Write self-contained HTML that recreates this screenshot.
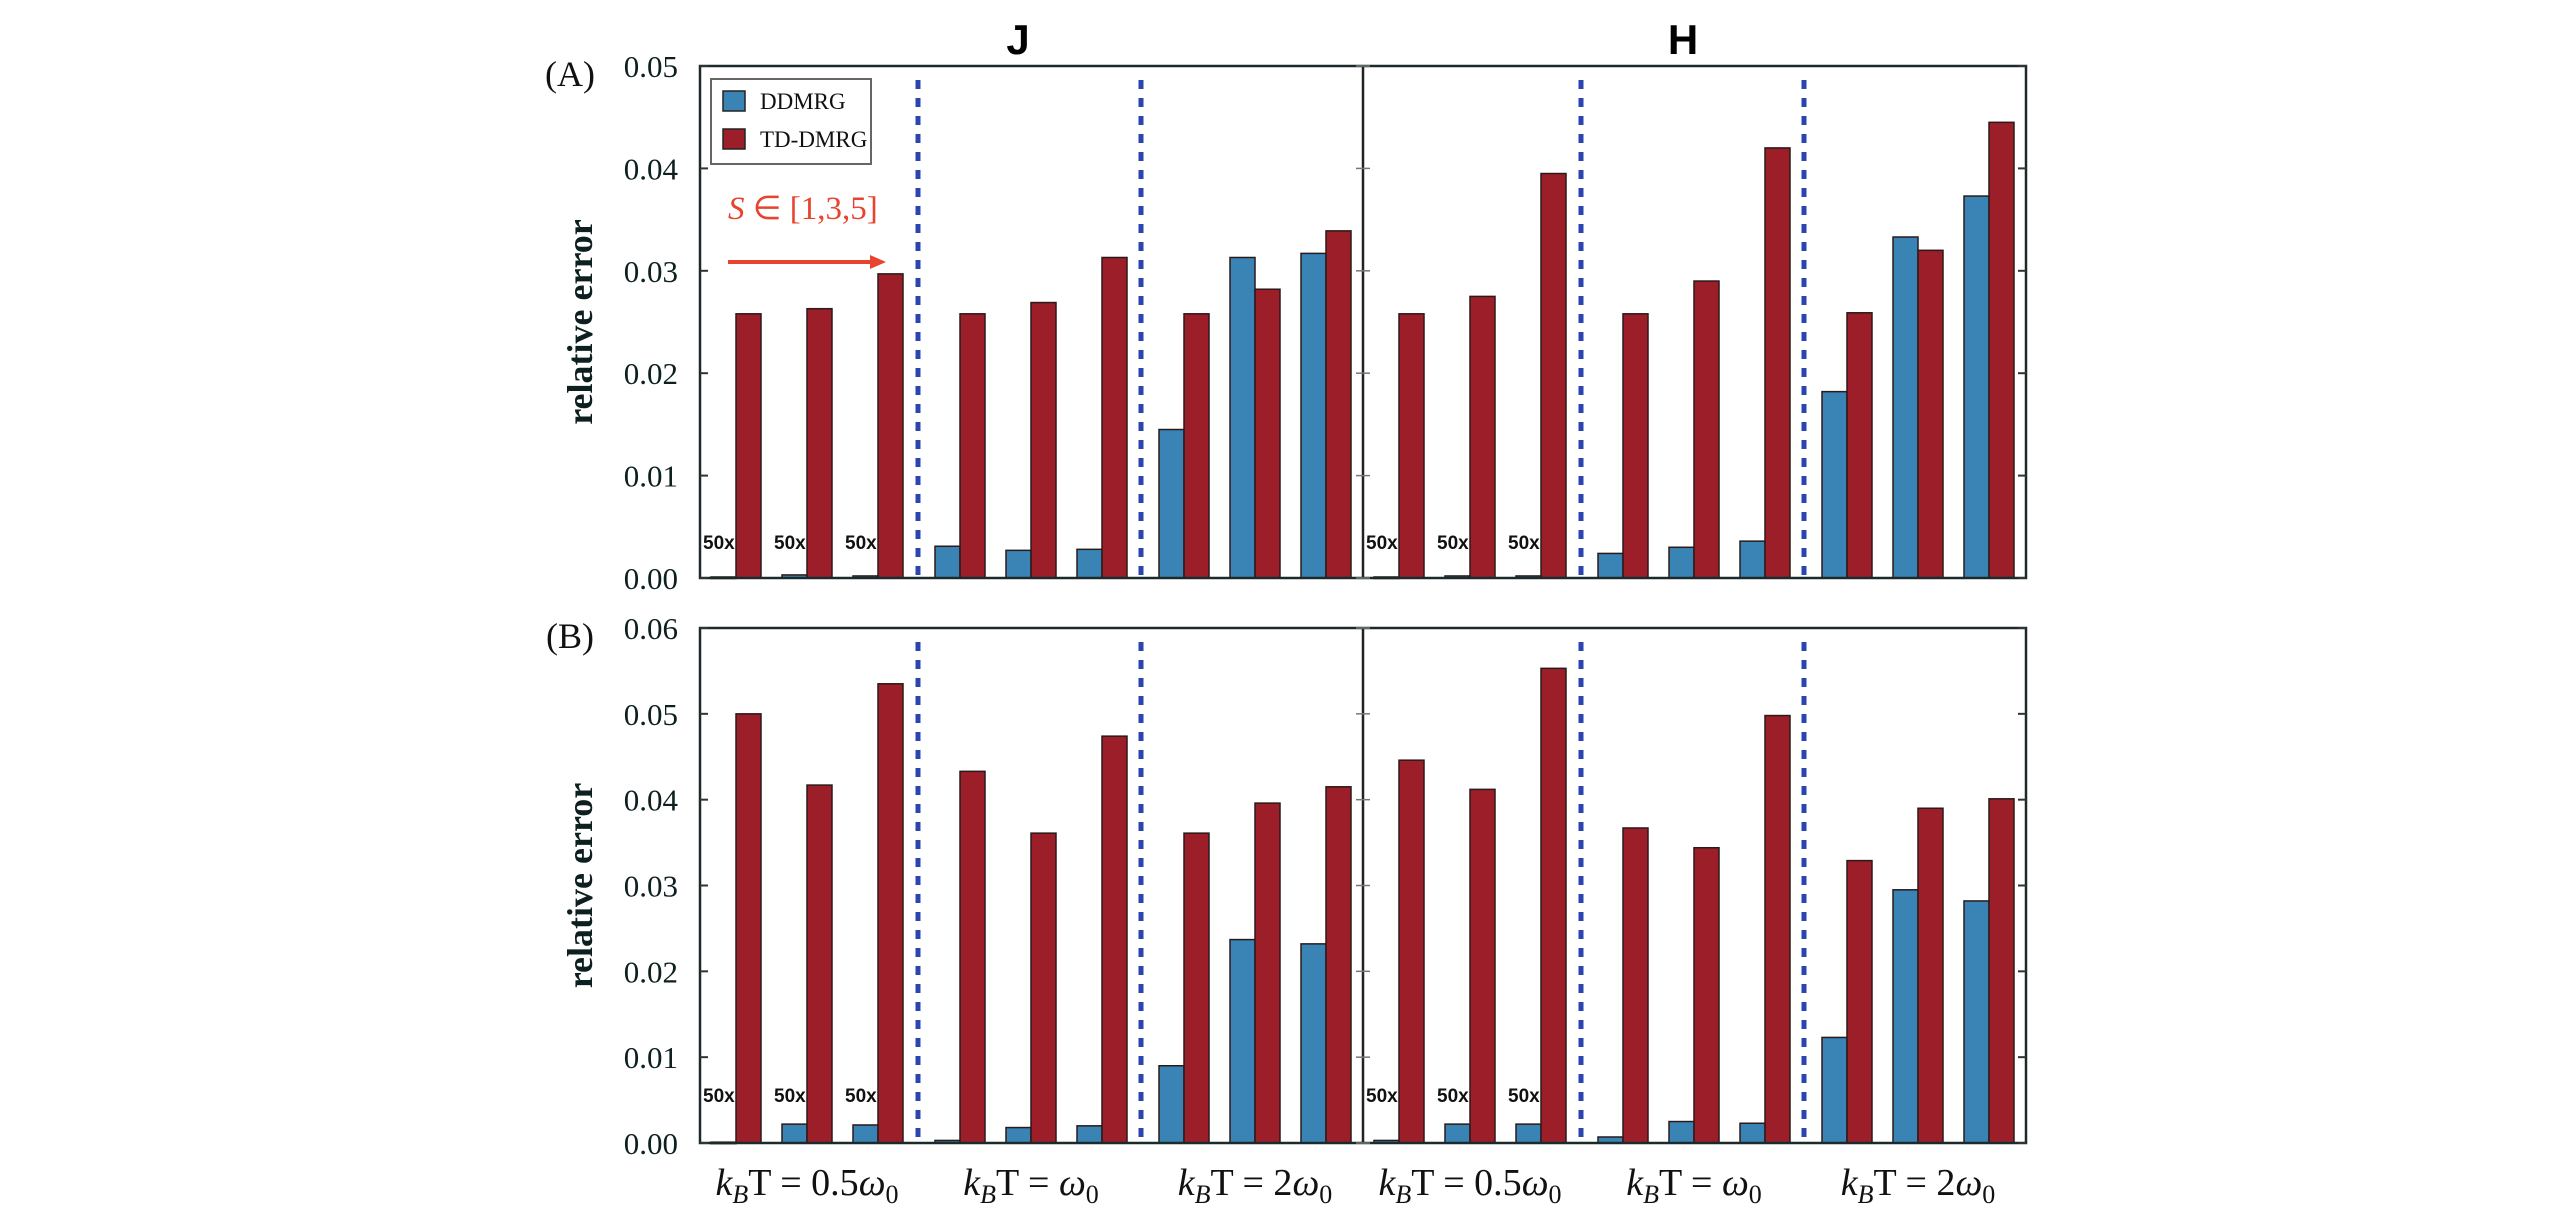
<!DOCTYPE html>
<html><head><meta charset="utf-8">
<style>html,body{margin:0;padding:0;background:#fff;}svg{display:block;}</style>
</head><body>
<svg id="chart" width="2567" height="1228" viewBox="0 0 2567 1228" xmlns="http://www.w3.org/2000/svg">
</svg>
<script>
// ---- data ----
const groups = ["0.5ω0", "ω0", "2ω0"];
const halves = ["J", "H"];
const panelATicks = [0, 0.01, 0.02, 0.03, 0.04, 0.05];
const panelBTicks = [0, 0.01, 0.02, 0.03, 0.04, 0.05, 0.06];
const panelATickLabels = ["0.00","0.01","0.02","0.03","0.04","0.05"];
const panelBTickLabels = ["0.00","0.01","0.02","0.03","0.04","0.05","0.06"];
// per half: 9 values (3 groups x S=1,3,5)
const aJBlue = [0.0001,0.0003,0.0002, 0.0031,0.0027,0.0028, 0.0145,0.0313,0.0317];
const aJRed  = [0.0258,0.0263,0.0297, 0.0258,0.0269,0.0313, 0.0258,0.0282,0.0339];
const aHBlue = [0.0001,0.0002,0.0002, 0.0024,0.0030,0.0036, 0.0182,0.0333,0.0373];
const aHRed  = [0.0258,0.0275,0.0395, 0.0258,0.0290,0.0420, 0.0259,0.0320,0.0445];
const bJBlue = [0.0001,0.0022,0.0021, 0.0003,0.0018,0.0020, 0.0090,0.0237,0.0232];
const bJRed  = [0.0500,0.0417,0.0535, 0.0433,0.0361,0.0474, 0.0361,0.0396,0.0415];
const bHBlue = [0.0003,0.0022,0.0022, 0.0007,0.0025,0.0023, 0.0123,0.0295,0.0282];
const bHRed  = [0.0446,0.0412,0.0553, 0.0367,0.0344,0.0498, 0.0329,0.0390,0.0401];

const svg = document.getElementById('chart');
const NS = 'http://www.w3.org/2000/svg';
function mk(tag, attrs, parent){ const e=document.createElementNS(NS,tag); for(const k in attrs) e.setAttribute(k,attrs[k]); (parent||svg).appendChild(e); return e; }

const X0 = 700, HALFW = 663, XR = 2026;
const BARW = 25;
function xCenter(half, i){ const g=Math.floor(i/3), j=i%3; return X0 + half*HALFW + 36 + 224*g + 71*j; }

const panels = [
  {name:'a', top:66, bottom:578, max:0.05, ticks:panelATicks, labels:panelATickLabels, data:[[aJBlue,aJRed],[aHBlue,aHRed]], tag:'(A)'},
  {name:'b', top:628, bottom:1143, max:0.06, ticks:panelBTicks, labels:panelBTickLabels, data:[[bJBlue,bJRed],[bHBlue,bHRed]], tag:'(B)'}
];

panels.forEach(p=>{
  const y = v => p.bottom - (v/p.max)*(p.bottom-p.top);
  const g = mk('g',{});
  
  
  // bars
  p.data.forEach((pair,h)=>{
    pair.forEach((series,s)=>{
      series.forEach((v,i)=>{
        const cx = xCenter(h,i);
        const r = mk('rect',{x: s===0? cx-BARW : cx, y: y(v), width: BARW, height: Math.max(p.bottom-y(v),1.5),
          fill: s===0? '#3a83b5':'#9b1e29', stroke:'#2a1a1a','stroke-width':1.5}, g);
        
        
      });
    });
    // 50x labels
    for(let i=0;i<3;i++){
      const t = mk('text',{x: xCenter(h,i)-BARW-8, y: p.name==='a'?549:1102, 'font-family':'Liberation Sans, sans-serif','font-weight':'bold','font-size':19,fill:'#111'}, g);
      t.textContent='50x';
      
      
    }
    // dotted separators
    [1,2].forEach(k=>{
      const xs = X0 + h*HALFW + (k===1?218:441);
      const l = mk('line',{x1:xs,x2:xs,y1:p.top+14,y2:p.bottom,stroke:'#2b44b0','stroke-width':5,'stroke-dasharray':'9 9'}, g);
      
      
    });
  });
  // frame
  const fr = mk('rect',{x:X0,y:p.top,width:XR-X0,height:p.bottom-p.top,fill:'none',stroke:'#1b2b2b','stroke-width':2.5}, g);
  
  
  const mid = mk('line',{x1:X0+HALFW,x2:X0+HALFW,y1:p.top,y2:p.bottom,stroke:'#222','stroke-width':2.5}, g);
  
  
  // ticks
  p.ticks.forEach((v,k)=>{
    const yy = y(v);
    mk('line',{x1:X0,x2:X0+8,y1:yy,y2:yy,stroke:'#333','stroke-width':2}, g);
    mk('line',{x1:X0+HALFW-7,x2:X0+HALFW+7,y1:yy,y2:yy,stroke:'#777','stroke-width':1.5}, g);
    mk('line',{x1:XR-8,x2:XR,y1:yy,y2:yy,stroke:'#333','stroke-width':2}, g);
    const t = mk('text',{x:678,y:yy+11,'text-anchor':'end','font-family':'Liberation Serif, serif','font-size':31,fill:'#0d1f1f'}, g);
    t.textContent = p.labels[k];
    
    
  });
  const yl = mk('text',{x:0,y:0,transform:`translate(592,${(p.top+p.bottom)/2}) rotate(-90)`,'text-anchor':'middle','font-family':'Liberation Serif, serif','font-weight':'bold','font-size':36,fill:'#0d1f1f'}, g);
  yl.textContent='relative error';
  
  
  const tg = mk('text',{x:570,y:p.top+20,'text-anchor':'middle','font-family':'Liberation Serif, serif','font-size':36,fill:'#111'}, g);
  tg.textContent=p.tag;
  
  
});

// titles
[['J',1018],['H',1683]].forEach(([s,x])=>{
  const t = mk('text',{x:x,y:54,'text-anchor':'middle','font-family':'Liberation Sans, sans-serif','font-weight':'bold','font-size':42,fill:'#000'});
  t.textContent=s;
  
  
});

// legend
const lg = mk('g',{});


mk('rect',{x:711,y:79,width:160,height:85,fill:'#fff',stroke:'#666','stroke-width':2}, lg);
[['DDMRG','#3a83b5',101],['TD-DMRG','#9b1e29',139]].forEach(([n,c,yy])=>{
  const sw = mk('rect',{x:723,y:yy-10,width:22,height:20,fill:c,stroke:'#222','stroke-width':1.5}, lg);
  
  
  const t = mk('text',{x:760,y:yy+8,'font-family':'Liberation Serif, serif','font-size':23,fill:'#111'}, lg);
  t.textContent=n;
  
  
});
// S annotation
const st = mk('text',{x:728,y:219,'font-family':'Liberation Serif, serif','font-size':33,fill:'#e8432e'});
st.innerHTML='<tspan font-style="italic">S</tspan> ∈ [1,3,5]';


const ar = mk('line',{x1:728,x2:872,y1:262,y2:262,stroke:'#e8432e','stroke-width':4});


const ah = mk('polygon',{points:'870,255 886,262 870,269',fill:'#e8432e'});



// x group labels
[0,1].forEach(h=>{
  groups.forEach((gname,g)=>{
    const cx = xCenter(h,3*g+1);
    const t = mk('text',{x:cx,y:1195,'text-anchor':'middle','font-family':'Liberation Serif, serif','font-size':38,fill:'#111'});
    const w = gname.replace('ω0','');
    t.innerHTML = '<tspan font-style="italic">k</tspan><tspan font-style="italic" font-size="26" dy="8">B</tspan><tspan dy="-8">T = '+w+'</tspan><tspan font-style="italic">ω</tspan><tspan font-size="26" dy="8">0</tspan>';
    
    
  });
});
</script>
</body></html>
